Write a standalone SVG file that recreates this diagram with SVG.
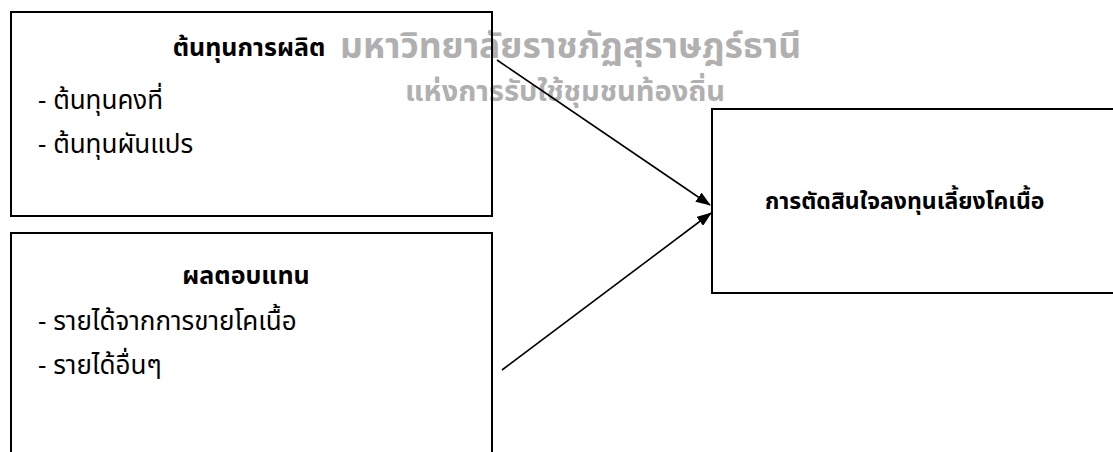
<svg xmlns="http://www.w3.org/2000/svg" width="1113" height="452" viewBox="0 0 1113 452">
<style>
.box{fill:none;stroke:#000;stroke-width:2}
.t{font-family:"Noto Sans Thai","Noto Sans",sans-serif;font-size:26px;fill:#000}
.h{font-weight:bold;font-size:25px}
.h3{font-weight:bold;font-size:23px}
.wm{font-family:"Noto Sans Thai","Noto Sans",sans-serif;font-weight:bold;fill:#b0b0b0}
.c{stroke:#000;stroke-width:1.6;fill:none}
</style>
<defs>
<marker id="ah" markerWidth="15" markerHeight="11" refX="14" refY="5.5" orient="auto" markerUnits="userSpaceOnUse" viewBox="0 0 15 11">
<path d="M0,0 L15,5.5 L0,11 Z" fill="#000"/>
</marker>
</defs>
<rect width="1113" height="452" fill="#fff"/>
<g id="watermark">
<text class="wm" x="340" y="58" font-size="35.5">มหาวิทยาลัยราชภัฏสุราษฎร์ธานี</text>
<text class="wm" x="405" y="101" font-size="29">แห่งการรับใช้ชุมชนท้องถิ่น</text>
</g>
<g id="node-cost">
<rect class="box" x="11" y="12" width="481" height="204"/>
<text class="t h" x="249" y="56" text-anchor="middle">ต้นทุนการผลิต</text>
<text class="t" x="38" y="109">- ต้นทุนคงที่</text>
<text class="t" x="38" y="153">- ต้นทุนผันแปร</text>
</g>
<g id="node-return">
<rect class="box" x="11" y="233" width="481" height="240"/>
<text class="t h" x="246" y="284" text-anchor="middle">ผลตอบแทน</text>
<text class="t" x="38" y="330">- รายได้จากการขายโคเนื้อ</text>
<text class="t" x="38" y="374">- รายได้อื่นๆ</text>
</g>
<g id="node-decision">
<rect class="box" x="712" y="109" width="420" height="184"/>
<text class="t h3" x="765" y="209">การตัดสินใจลงทุนเลี้ยงโคเนื้อ</text>
</g>
<g id="connectors">
<line class="c" x1="497" y1="60" x2="710" y2="205" marker-end="url(#ah)"/>
<line class="c" x1="502" y1="370" x2="711" y2="213" marker-end="url(#ah)"/>
</g>
</svg>
